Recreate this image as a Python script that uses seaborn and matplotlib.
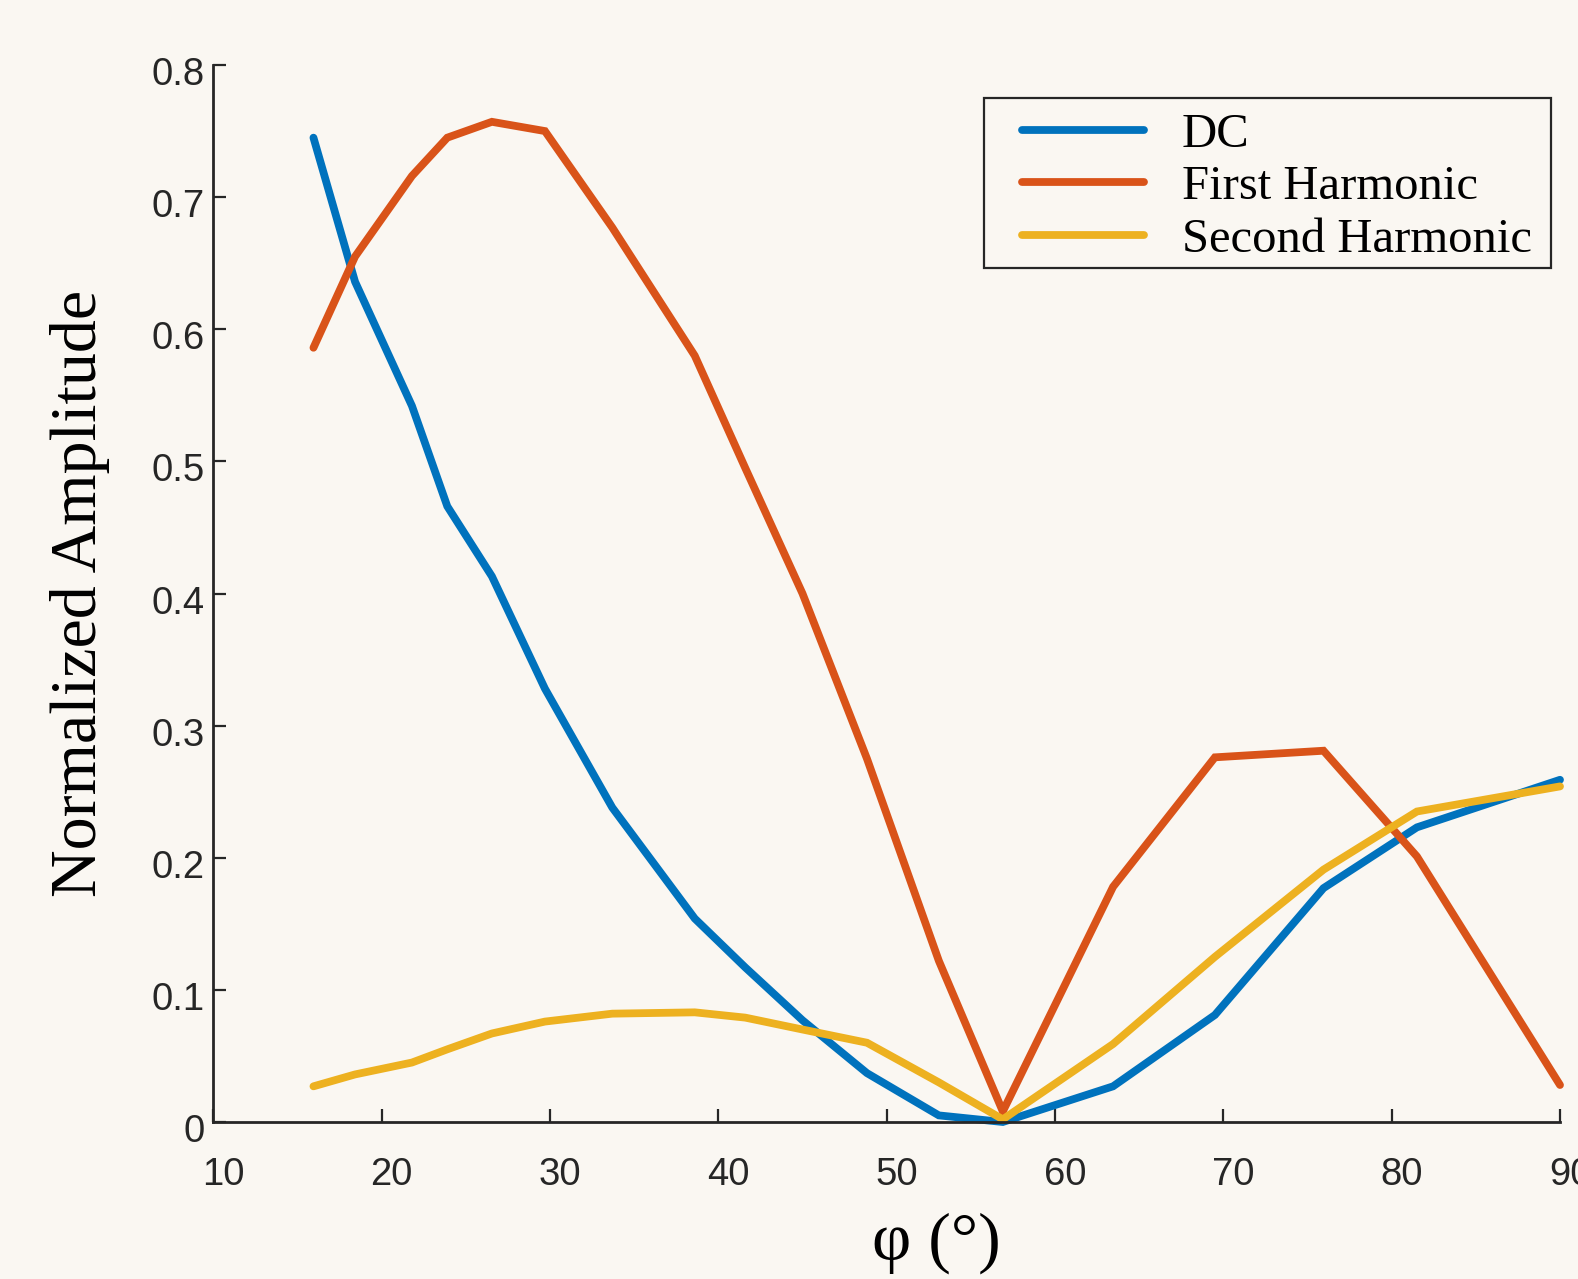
import numpy as np
import pandas as pd
import matplotlib
matplotlib.use("Agg")
import matplotlib.pyplot as plt
import matplotlib.transforms as mtransforms
from matplotlib.lines import Line2D
from matplotlib.patches import Rectangle
from matplotlib.legend_handler import HandlerLine2D
import seaborn as sns

# ---------------- data ----------------
phi = [15.95, 18.42, 21.8, 23.9, 26.55, 29.7, 33.7, 38.6, 41.6, 45.0,
       48.83, 53.1, 56.9, 63.45, 69.5, 75.95, 81.5, 90.0]
dc = [0.745, 0.636, 0.542, 0.466, 0.413, 0.328, 0.238, 0.154, 0.117, 0.077,
      0.037, 0.005, 0.000, 0.027, 0.081, 0.177, 0.223, 0.259]
first_harmonic = [0.586, 0.655, 0.716, 0.745, 0.757, 0.750, 0.677, 0.580, 0.495, 0.400,
                  0.275, 0.122, 0.008, 0.178, 0.276, 0.281, 0.201, 0.028]
second_harmonic = [0.027, 0.036, 0.045, 0.055, 0.067, 0.076, 0.082, 0.083, 0.079, 0.070,
                   0.060, 0.030, 0.002, 0.059, 0.125, 0.191, 0.235, 0.254]
series_names = ["DC", "First Harmonic", "Second Harmonic"]
colors = ["#0072BD", "#D95319", "#EDB120"]
x_ticks = [10, 20, 30, 40, 50, 60, 70, 80, 90]
x_tick_labels = ["10", "20", "30", "40", "50", "60", "70", "80", "90"]
y_ticks = [0, 0.1, 0.2, 0.3, 0.4, 0.5, 0.6, 0.7, 0.8]
y_tick_labels = ["0", "0.1", "0.2", "0.3", "0.4", "0.5", "0.6", "0.7", "0.8"]
x_label = "φ (°)"
y_label = "Normalized Amplitude"

df = pd.concat([
    pd.DataFrame({"phi": phi, "amp": vals, "series": name})
    for name, vals in zip(series_names, [dc, first_harmonic, second_harmonic])
], ignore_index=True)

# ---------------- style ----------------
bg = "#FAF7F2"
ink = "#262626"
sns.set_theme(style="ticks")
plt.rcParams["font.family"] = ["Liberation Sans", "DejaVu Sans"]
plt.rcParams["axes.facecolor"] = bg
plt.rcParams["figure.facecolor"] = bg

W, H = 1578, 1279
fig = plt.figure(figsize=(W / 100, H / 100), dpi=100)
ax_left, ax_right, ax_top, ax_bottom = 213.3, 1560.0, 65.0, 1122.0
ax = fig.add_axes([ax_left / W, 1 - ax_bottom / H,
                   (ax_right - ax_left) / W, (ax_bottom - ax_top) / H])
ax.set_facecolor(bg)

sns.lineplot(data=df, x="phi", y="amp", hue="series", hue_order=series_names,
             palette=colors, sort=False, estimator=None, linewidth=5.6,
             legend=False, ax=ax)
for ln in ax.lines:
    ln.set_solid_capstyle("round")
    ln.set_solid_joinstyle("miter")
    ln.set_clip_on(False)

ax.set_xlim(10, 90)
ax.set_ylim(0, 0.8)
ax.set_xticks(x_ticks)
ax.set_xticklabels(x_tick_labels)
ax.set_yticks(y_ticks)
ax.set_yticklabels(y_tick_labels)

for s in ["top", "right"]:
    ax.spines[s].set_visible(False)
for s in ["left", "bottom"]:
    ax.spines[s].set_color(ink)
    ax.spines[s].set_linewidth(2.0)

ax.tick_params(axis="both", direction="in", length=9.5, width=1.6,
               color=ink, labelcolor=ink, labelsize=27.5)
ax.tick_params(axis="x", pad=25)
ax.tick_params(axis="y", pad=6)

# small offsets of tick labels as in the reference
dx = mtransforms.ScaledTranslation(10 / 100, 0, fig.dpi_scale_trans)
dy = mtransforms.ScaledTranslation(0, -6 / 100, fig.dpi_scale_trans)
for t in ax.xaxis.get_major_ticks():
    t.label1.set_transform(t.label1.get_transform() + dx)
for t in ax.yaxis.get_major_ticks():
    t.label1.set_transform(t.label1.get_transform() + dy)

ax.set_xlabel(x_label, fontfamily="Liberation Serif", fontsize=49, color="black")
ax.set_ylabel(y_label, fontfamily="Liberation Serif", fontsize=47.5, color="black")
ax.xaxis.label.set_va("center")
ax.yaxis.label.set_va("center")
ax.xaxis.set_label_coords((936 - ax_left) / (ax_right - ax_left),
                          (ax_bottom - 1243) / (ax_bottom - ax_top))
ax.yaxis.set_label_coords((80 - ax_left) / (ax_right - ax_left), 0.5)

# legend frame (drawn as a box in figure pixels) and legend contents
box_l, box_r, box_t, box_b = 984, 1551, 98, 268
frame = Rectangle((box_l / W, 1 - box_b / H), (box_r - box_l) / W, (box_b - box_t) / H,
                  transform=fig.transFigure, facecolor=bg, edgecolor=ink,
                  linewidth=1.6, zorder=4.9, clip_on=False)
ax.add_artist(frame)

leg = ax.legend(ax.lines[:3], series_names, loc="upper right",
                bbox_to_anchor=((1551 - 7.5 - ax_left) / (ax_right - ax_left),
                                (ax_bottom - 101.5) / (ax_bottom - ax_top)),
                bbox_transform=ax.transAxes, borderaxespad=0,
                frameon=False, labelcolor="black",
                prop={"family": "Liberation Serif", "size": 35},
                handlelength=3.02, handletextpad=0.78, borderpad=0.24,
                labelspacing=0.17,
                handler_map={Line2D: HandlerLine2D(xpad=0.51)})
leg.set_zorder(5)
for ln in leg.get_lines():
    ln.set_solid_capstyle("round")
    ln.set_linewidth(5.6)

fig.savefig("out.png", dpi=100, facecolor=bg)
